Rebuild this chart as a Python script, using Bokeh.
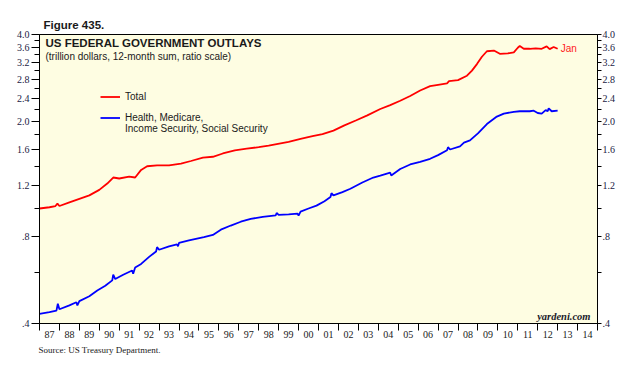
from bokeh.plotting import figure
from bokeh.models import (FixedTicker, LogAxis, Label, Title, Legend, LegendItem)
from bokeh.embed import file_html
from bokeh.resources import INLINE

# ---------------- data ----------------
total_x = [1987.0, 1987.5, 1987.8, 1987.9, 1988.0, 1988.5, 1989.0, 1989.5, 1990.0, 1990.4,
           1990.7, 1991.0, 1991.5, 1991.8, 1992.1, 1992.4, 1992.9, 1993.5, 1994.1, 1994.6,
           1995.2, 1995.7, 1996.2, 1996.8, 1997.4, 1998.0, 1998.5, 1998.9, 1999.5, 2000.1,
           2000.7, 2001.2, 2001.75, 2002.3, 2002.9, 2003.45, 2004.1, 2004.6, 2005.1, 2005.6,
           2006.1, 2006.6, 2007.0, 2007.45, 2007.55, 2008.0, 2008.45, 2008.7, 2008.95, 2009.2,
           2009.45, 2009.8, 2010.1, 2010.5, 2010.8, 2011.0, 2011.1, 2011.3, 2011.6, 2011.9,
           2012.2, 2012.45, 2012.6, 2012.8, 2013.0]
total_y = [1.00, 1.01, 1.02, 1.04, 1.02, 1.05, 1.08, 1.11, 1.16, 1.22,
           1.28, 1.27, 1.29, 1.28, 1.36, 1.40, 1.41, 1.41, 1.43, 1.46,
           1.50, 1.51, 1.55, 1.59, 1.61, 1.63, 1.65, 1.67, 1.70, 1.74,
           1.78, 1.81, 1.86, 1.94, 2.02, 2.10, 2.21, 2.28, 2.36, 2.45,
           2.56, 2.65, 2.68, 2.71, 2.76, 2.78, 2.88, 3.00, 3.16, 3.35,
           3.50, 3.52, 3.43, 3.44, 3.47, 3.60, 3.65, 3.57, 3.57, 3.58,
           3.57, 3.64, 3.56, 3.62, 3.57]

hms_x = [1987.0, 1987.5, 1987.85, 1987.92, 1988.0, 1988.5, 1988.85, 1988.9, 1989.0, 1989.5,
         1989.9, 1990.3, 1990.65, 1990.7, 1990.8, 1991.2, 1991.65, 1991.7, 1991.8, 1992.1,
         1992.5, 1992.85, 1992.9, 1993.0, 1993.5, 1993.9, 1993.95, 1994.0, 1994.5, 1995.25,
         1995.7, 1996.1, 1996.6, 1997.1, 1997.6, 1998.2, 1998.85, 1998.9, 1999.0, 1999.5,
         1999.95, 2000.0, 2000.1, 2000.5, 2000.9, 2001.3, 2001.6, 2001.65, 2001.75, 2002.2,
         2002.6, 2003.2, 2003.75, 2004.1, 2004.6, 2004.65, 2005.1, 2005.6, 2006.1, 2006.6,
         2007.0, 2007.45, 2007.5, 2007.6, 2008.1, 2008.3, 2008.6, 2009.0, 2009.45, 2009.95,
         2010.3, 2010.8, 2011.1, 2011.6, 2011.8, 2012.0, 2012.2, 2012.4, 2012.5, 2012.55,
         2012.7, 2013.0]
hms_y = [0.432, 0.438, 0.443, 0.468, 0.448, 0.462, 0.474, 0.462, 0.478, 0.497,
         0.520, 0.540, 0.564, 0.590, 0.570, 0.590, 0.610, 0.595, 0.625, 0.643,
         0.680, 0.710, 0.735, 0.720, 0.740, 0.751, 0.740, 0.760, 0.775, 0.796,
         0.810, 0.845, 0.873, 0.900, 0.921, 0.935, 0.946, 0.965, 0.950, 0.955,
         0.960, 0.945, 0.975, 1.000, 1.023, 1.060, 1.095, 1.130, 1.110, 1.140,
         1.170, 1.230, 1.280, 1.300, 1.330, 1.300, 1.370, 1.420, 1.450, 1.486,
         1.530, 1.590, 1.630, 1.600, 1.640, 1.690, 1.720, 1.820, 1.960, 2.080,
         2.130, 2.160, 2.170, 2.170, 2.180, 2.140, 2.130, 2.190, 2.170, 2.220,
         2.170, 2.180]

years = list(range(1987, 2015))
year_labels = ["87", "88", "89", "90", "91", "92", "93", "94", "95", "96", "97", "98", "99", "00",
               "01", "02", "03", "04", "05", "06", "07", "08", "09", "10", "11", "12", "13", "14"]
y_major = [0.4, 0.8, 1.2, 1.6, 2.0, 2.4, 2.8, 3.2, 3.6, 4.0]
y_major_labels = [".4", ".8", "1.2", "1.6", "2.0", "2.4", "2.8", "3.2", "3.6", "4.0"]
y_minor = [0.6, 1.0, 1.4, 1.8, 2.2, 2.6, 3.0, 3.4, 3.8]

series_names = ["Total", "Health, Medicare,", "Income Security, Social Security"]
title_text = "US FEDERAL GOVERNMENT OUTLAYS"
subtitle_text = "(trillion dollars, 12-month sum, ratio scale)"

SANS = "Liberation Sans"
SERIF = "Liberation Serif"
TXT = "#1a1a1a"

p = figure(width=626, height=370, output_backend="svg", toolbar_location=None,
           y_axis_type="log", x_range=(1987, 2015), y_range=(0.4, 4.0),
           min_border_left=39, min_border_right=29, min_border_top=34, min_border_bottom=47,
           background_fill_color="#FEFDE2", border_fill_color="white")
p.outline_line_color = "black"
p.outline_line_width = 1
p.grid.visible = False

# title above
p.title.text = "Figure 435."
p.title.align = "left"
p.title.offset = 4
p.title.text_font = SANS
p.title.text_font_size = "11.5px"
p.title.text_font_style = "bold"
p.title.text_color = TXT
p.title.standoff = 7

# x axis
mids = [y + 0.5 for y in years]
bounds = years + [years[-1] + 1]
xa = p.xaxis[0]
xa.ticker = FixedTicker(ticks=mids, minor_ticks=bounds)
xa.major_label_overrides = {m: lab for m, lab in zip(mids, year_labels)}
xa.major_tick_out = 0
xa.major_tick_in = 0
xa.minor_tick_out = 7
xa.minor_tick_in = 0
xa.minor_tick_line_color = "black"
xa.major_label_standoff = 0
xa.major_label_text_font = SERIF
xa.major_label_text_font_size = "10px"
xa.major_label_text_color = TXT
xa.axis_line_color = "black"

# y axes
def style_y(ax, major_out, minor_out, standoff):
    ax.ticker = FixedTicker(ticks=y_major, minor_ticks=y_minor)
    ax.major_label_overrides = {v: lab for v, lab in zip(y_major, y_major_labels)}
    ax.major_tick_out = major_out
    ax.major_tick_in = 0
    ax.minor_tick_out = minor_out
    ax.minor_tick_in = 0
    ax.major_tick_line_color = "black"
    ax.minor_tick_line_color = "black"
    ax.axis_line_color = "black"
    ax.major_label_standoff = standoff
    ax.major_label_text_font = SERIF
    ax.major_label_text_font_size = "10px"
    ax.major_label_text_color = "#222244"

style_y(p.yaxis[0], 8, 5, 2)
ry = LogAxis()
style_y(ry, 4, 4, 1)
p.add_layout(ry, "right")

# lines
r_total = p.line(total_x, total_y, line_color="#FF0000", line_width=1.8)
r_hms = p.line(hms_x, hms_y, line_color="#0000FF", line_width=1.8)
r_dummy = p.line(x=[], y=[], line_alpha=0)

def mk_legend(items, loc):
    lg = Legend(items=items, location=loc)
    lg.padding = 0
    lg.margin = 0
    lg.spacing = 0
    lg.glyph_width = 20
    lg.glyph_height = 11
    lg.label_height = 11
    lg.label_standoff = 5
    lg.label_text_font = SANS
    lg.label_text_font_size = "10px"
    lg.label_text_color = TXT
    lg.border_line_color = None
    lg.background_fill_alpha = 0
    p.add_layout(lg, "center")

mk_legend([LegendItem(label=series_names[0], renderers=[r_total])], (61, 221))
mk_legend([LegendItem(label=series_names[1], renderers=[r_hms]),
           LegendItem(label=series_names[2], renderers=[r_dummy])], (61, 189))

# in-frame texts
p.add_layout(Label(x=6, y=281, x_units="screen", y_units="screen", text=title_text,
                   text_font=SANS, text_font_size="11.5px", text_font_style="bold",
                   text_color=TXT, text_baseline="middle"))
p.add_layout(Label(x=6, y=267, x_units="screen", y_units="screen", text=subtitle_text,
                   text_font=SANS, text_font_size="10px", text_color=TXT,
                   text_baseline="middle"))
p.add_layout(Label(x=total_x[-1], y=total_y[-1], x_offset=3, text="Jan",
                   text_font=SANS, text_font_size="10px", text_color="#FF2020",
                   text_baseline="middle"))
p.add_layout(Label(x=551, y=7, x_units="screen", y_units="screen", text="yardeni.com",
                   text_font=SERIF, text_font_size="10.5px", text_font_style="bold italic",
                   text_color="#1a1a2a", text_align="right", text_baseline="middle"))

# source below
p.add_layout(Title(text="Source: US Treasury Department.", align="left", offset=-1,
                   text_font=SERIF, text_font_size="9px", text_font_style="normal",
                   text_color=TXT, standoff=5), "below")

open("out.html", "w").write(file_html(p, INLINE))
